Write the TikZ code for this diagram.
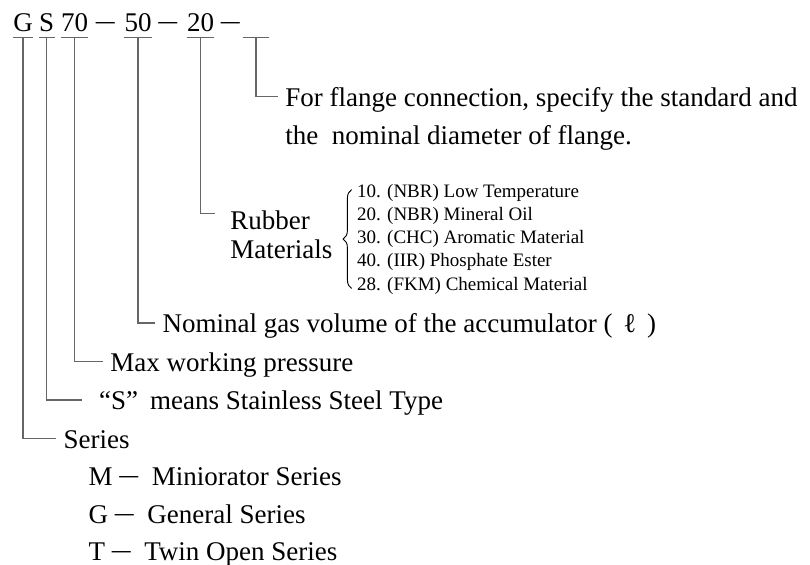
\documentclass[tikz,border=0pt]{standalone}
\usepackage{fontspec}
\setmainfont{Liberation Serif}
\usetikzlibrary{positioning, decorations.pathreplacing}
\newcommand{\fwdash}{\raisebox{0.08em}{\scalebox{0.7}[1]{—}}}
\newcommand{\serdash}{\hspace{0.25em}\fwdash\hspace{0.5em}}

\begin{document}
\begin{tikzpicture}[x=0.5pt, y=-0.5pt,
  code/.style={inner sep=0pt, text depth=2.5pt, anchor=base west, font=\fontsize{13.5}{16}\selectfont},
  lbl/.style={inner xsep=3.5pt, inner ysep=0pt, text height=11.475pt, text depth=1.35pt, anchor=base west, font=\fontsize{13.5}{16}\selectfont},
  item/.style={inner sep=0pt, text height=7.125pt, text depth=2.375pt, anchor=base west, font=\fontsize{9.5}{11}\selectfont},
  lead/.style={draw=black!60, line width=0.65pt}]
\useasboundingbox (0,0) rectangle (810,565);

\node[code] (cSer) at (13,32) {G};
\node[code, base right=2.75pt of cSer] (cSteel) {S};
\node[code, base right=3pt of cSteel] (cPres) {70};
\node[code, base right=3.5pt of cPres] (d1) {\fwdash};
\node[code, base right=4.5pt of d1] (cVol) {50};
\node[code, base right=3pt of cVol] (d2) {\fwdash};
\node[code, base right=4.5pt of d2] (cRub) {20};
\node[code, base right=3pt of cRub] (d3) {\fwdash};
\node[code, base right=1.5pt of d3, minimum width=12.5pt] (cFlg) {};

\node[lbl] (lFlg) at (278,106.7) {For flange connection, specify the standard and};
\node[lbl, below=5.8pt of lFlg.south west, anchor=north west] (lFlgB) {the\ \ nominal diameter of flange.};

\node[lbl, inner xsep=7.5pt] (lRub) at (215,230) {Rubber};
\node[lbl, inner xsep=7.5pt, below=0.8pt of lRub.south west, anchor=north west] (lRubB) {Materials};
\node[item] (m10) at (356.7,197.3) {10. (NBR) Low Temperature};
\node[item, below=1.7pt of m10.south west, anchor=north west] (m20) {20. (NBR) Mineral Oil};
\node[item, below=1.7pt of m20.south west, anchor=north west] (m30) {30. (CHC) Aromatic Material};
\node[item, below=1.7pt of m30.south west, anchor=north west] (m40) {40. (IIR) Phosphate Ester};
\node[item, below=1.7pt of m40.south west, anchor=north west] (m28) {28. (FKM) Chemical Material};
\draw[decorate, decoration={brace, amplitude=4.3pt}, line width=0.45pt] ([shift={(-2.5pt,3.4pt)}]m28.south west) -- ([shift={(-2.5pt,-3.5pt)}]m10.north west);

\node[lbl] (lVol) at (155.3,333) {Nominal gas volume of the accumulator (\hspace{0.4em}ℓ\hspace{0.4em})};
\node[lbl] (lPres) at (103,371.5) {Max working pressure};
\node[lbl, inner xsep=8.5pt] (lSteel) at (81.7,410) {``S''\hspace{0.45em}means Stainless Steel Type};
\node[lbl] (lSer) at (56.3,448.3) {Series};
\node[lbl, below=5.5pt of lSer.south west, anchor=north west, xshift=12.5pt] (sM) {M\serdash Miniorator Series};
\node[lbl, below=5.5pt of sM.south west, anchor=north west] (sG) {G\serdash General Series};
\node[lbl, below=5.5pt of sG.south west, anchor=north west] (sT) {T\serdash Twin Open Series};

\draw[lead] (cSer.south west) -- (cSer.south east);
\draw[lead] (cSteel.south west) -- (cSteel.south east);
\draw[lead] (cPres.south west) -- (cPres.south east);
\draw[lead] (cVol.south west) -- (cVol.south east);
\draw[lead] (cRub.south west) -- (cRub.south east);
\draw[lead] (cFlg.south west) -- (cFlg.south east);

\draw[lead] (cFlg.south) |- (lFlg);
\draw[lead] (cRub.south) |- ([yshift=3.3pt]lRub.west);
\draw[lead] (cVol.south) |- (lVol);
\draw[lead] (cPres.south) |- (lPres);
\draw[lead] (cSteel.south) |- (lSteel);
\draw[lead] (cSer.south) |- (lSer);

\end{tikzpicture}
\end{document}
